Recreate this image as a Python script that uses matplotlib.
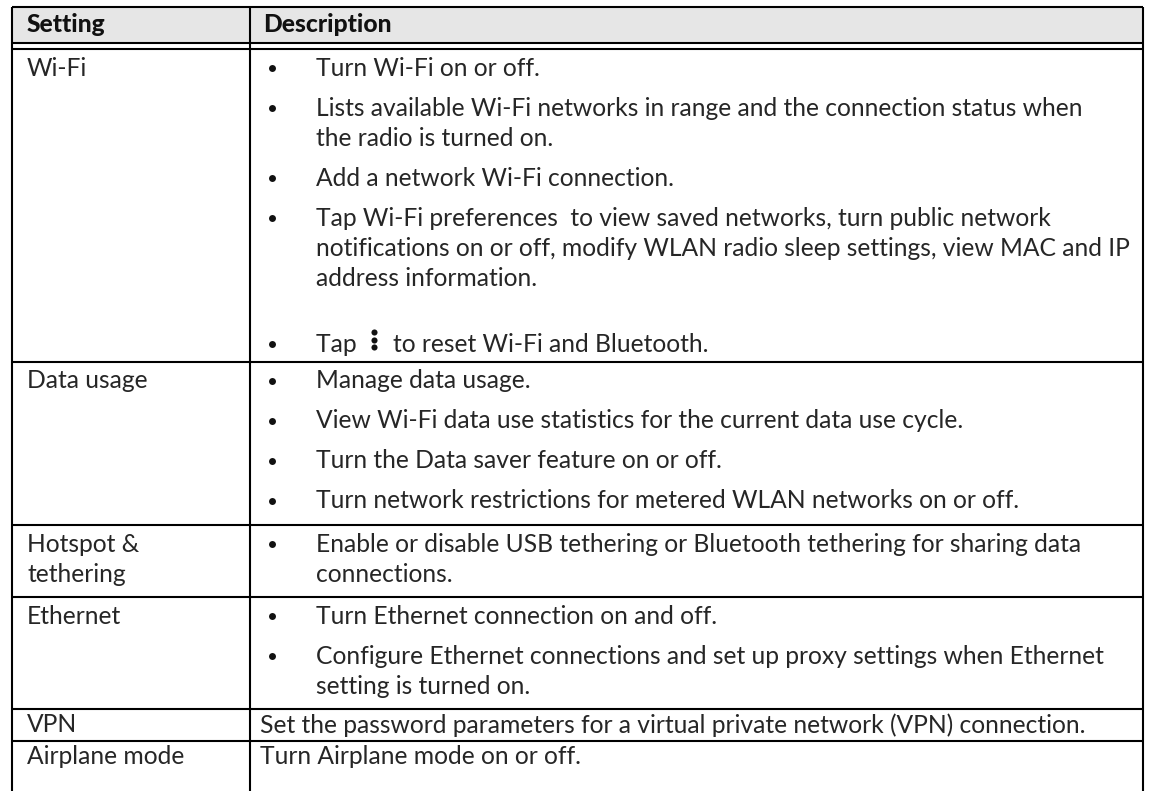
import matplotlib
matplotlib.use("Agg")
import matplotlib.pyplot as plt
from matplotlib.patches import Rectangle

# ---------------- data ----------------
headers = ["Setting", "Description"]
settings = ["Wi-Fi", "Data usage", "Hotspot &\ntethering", "Ethernet", "VPN", "Airplane mode"]
wifi_items = [
    "Turn Wi-Fi on or off.",
    "Lists available Wi-Fi networks in range and the connection status when\nthe radio is turned on.",
    "Add a network Wi-Fi connection.",
    "Tap Wi-Fi preferences  to view saved networks, turn public network\nnotifications on or off, modify WLAN radio sleep settings, view MAC and IP\naddress information.",
    "Tap {icon} to reset Wi-Fi and Bluetooth.",
]
data_usage_items = [
    "Manage data usage.",
    "View Wi-Fi data use statistics for the current data use cycle.",
    "Turn the Data saver feature on or off.",
    "Turn network restrictions for metered WLAN networks on or off.",
]
hotspot_items = [
    "Enable or disable USB tethering or Bluetooth tethering for sharing data\nconnections.",
]
ethernet_items = [
    "Turn Ethernet connection on and off.",
    "Configure Ethernet connections and set up proxy settings when Ethernet\nsetting is turned on.",
]
vpn_text = "Set the password parameters for a virtual private network (VPN) connection."
airplane_text = "Turn Airplane mode on or off."
descriptions = [wifi_items, data_usage_items, hotspot_items, ethernet_items, vpn_text, airplane_text]

# ---------------- layout / style ----------------
W, H = 1149, 791
FAM = ["Lato", "DejaVu Sans"]
WT = "normal"
TXT = "#262626"
LW = 1.5
x_left, x_div, x_right = 12, 250, 1143
y_top, y_head, y_head2 = 7, 43, 49
row_tops = [49, 362, 525, 597, 709, 741]
LINE, GAP, ICON_EXTRA = 30, 40, 26

fig = plt.figure(figsize=(W / 100, H / 100), dpi=100)
ax = fig.add_axes([0, 0, 1, 1])
ax.set_xlim(0, W)
ax.set_ylim(H, 0)
ax.axis("off")

# fit font size: the longest Wi-Fi line spans about 814 px
renderer = fig.canvas.get_renderer()
probe = ax.text(0, 0, wifi_items[3].split("\n")[1], fontsize=12, family=FAM, weight=WT)
w12 = probe.get_window_extent(renderer).width
probe.remove()
FS = 12 * 814.0 / w12

# header
ax.add_patch(Rectangle((x_left, y_top), x_right - x_left, y_head - y_top,
                       facecolor="#e6e6e6", edgecolor="none", zorder=0))
ax.text(27, 25, headers[0], fontsize=FS, family=FAM, weight="black", va="center", color="#111")
ax.text(263, 25, headers[1], fontsize=FS, family=FAM, weight="black", va="center", color="#111")

# lines
hl = [y_top, y_head, y_head2] + row_tops[1:]
for y in hl:
    ax.plot([x_left, x_right], [y, y], color="black", lw=LW, solid_capstyle="butt")
for x in [x_left, x_div, x_right]:
    ax.plot([x, x], [y_top, H + 5], color="black", lw=LW, solid_capstyle="butt")

BUL_X, TXT_X, PLAIN_X, LEFT_X = 272, 316, 260, 27

def txt(x, y, s):
    ax.text(x, y, s, fontsize=FS, family=FAM, weight=WT, va="center", color=TXT)

for i, (setting, desc) in enumerate(zip(settings, descriptions)):
    top = row_tops[i]
    if isinstance(desc, str):
        y = top + 16
        txt(LEFT_X, y, setting)
        txt(PLAIN_X, y, desc)
        continue
    y0 = top + 19
    for j, ln in enumerate(setting.split("\n")):
        txt(LEFT_X, y0 + j * LINE, ln)
    y = y0
    for k, item in enumerate(desc):
        if k > 0:
            y += GAP
        if "{icon}" in item:
            y += ICON_EXTRA
        ax.plot([BUL_X], [y], marker="o", ms=5, color="#111", mec="none")
        lines = item.split("\n")
        for j, ln in enumerate(lines):
            yy = y + j * LINE
            if "{icon}" in ln:
                pre, post = ln.split("{icon}")
                txt(TXT_X, yy, pre)
                ax.plot([374, 374, 374], [yy - 12, yy - 4.5, yy + 3], ls="none",
                        marker="o", ms=4.4, color="#111", mec="none")
                txt(393, yy, post.strip())
            else:
                txt(TXT_X, yy, ln)
        y += (len(lines) - 1) * LINE

fig.savefig("out.png", dpi=100)
